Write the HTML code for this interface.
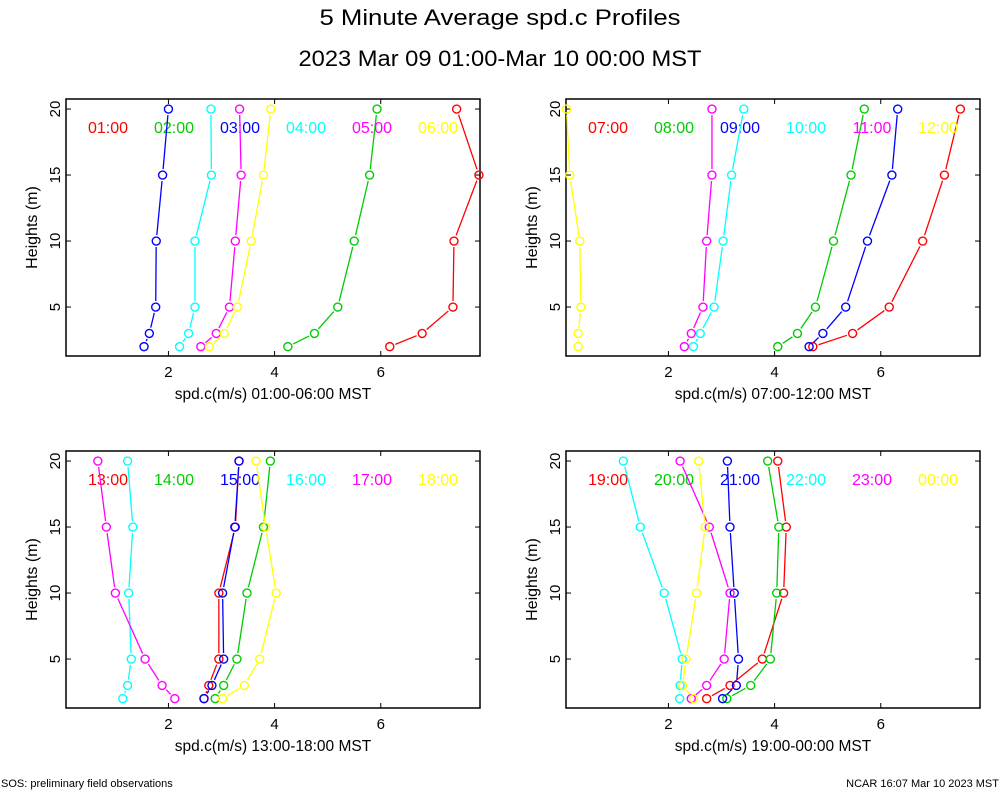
<!DOCTYPE html>
<html><head><meta charset="utf-8"><style>
body{margin:0;background:#fff;}
svg{display:block;font-family:"Liberation Sans",sans-serif;}
</style></head><body>
<svg id="chart" width="1000" height="800" viewBox="0 0 1000 800" xmlns="http://www.w3.org/2000/svg">
<text x="500" y="25" font-size="22" text-anchor="middle" textLength="361" lengthAdjust="spacingAndGlyphs">5 Minute Average spd.c Profiles</text>
<text x="500" y="66" font-size="22" text-anchor="middle" textLength="403" lengthAdjust="spacingAndGlyphs">2023 Mar 09 01:00-Mar 10 00:00 MST</text>
<text x="1" y="787" font-size="11">SOS: preliminary field observations</text>
<text x="999" y="787" font-size="11" text-anchor="end">NCAR 16:07 Mar 10 2023 MST</text>
</svg>
<script>
const heights = [2,3,5,10,15,20];
const colors = ["#ff0000","#00cc00","#0000ff","#00ffff","#ff00ff","#ffff00"];
const xTicks = [2,4,6];
const yTicks = [5,10,15,20];
const panel1Labels = ["01:00","02:00","03:00","04:00","05:00","06:00"];
const panel1Values = [
 [6.17,6.78,7.36,7.38,7.85,7.43],
 [4.25,4.75,5.19,5.50,5.79,5.93],
 [1.54,1.64,1.76,1.77,1.89,2.00],
 [2.21,2.38,2.50,2.50,2.81,2.80],
 [2.61,2.90,3.15,3.26,3.37,3.34],
 [2.77,3.05,3.30,3.56,3.79,3.93]];
const panel2Labels = ["07:00","08:00","09:00","10:00","11:00","12:00"];
const panel2Values = [
 [4.72,5.47,6.16,6.79,7.20,7.50],
 [4.06,4.43,4.77,5.11,5.44,5.69],
 [4.65,4.91,5.34,5.75,6.21,6.32],
 [2.47,2.60,2.86,3.03,3.19,3.42],
 [2.30,2.43,2.65,2.72,2.82,2.82],
 [0.30,0.30,0.35,0.33,0.14,0.08]];
const panel3Labels = ["13:00","14:00","15:00","16:00","17:00","18:00"];
const panel3Values = [
 [2.67,2.76,2.95,2.95,3.26,3.33],
 [2.88,3.04,3.29,3.48,3.79,3.92],
 [2.67,2.82,3.04,3.02,3.25,3.33],
 [1.14,1.23,1.30,1.25,1.33,1.23],
 [2.12,1.88,1.56,1.00,0.83,0.67],
 [3.02,3.43,3.72,4.03,3.83,3.65]];
const panel4Labels = ["19:00","20:00","21:00","22:00","23:00","00:00"];
const panel4Values = [
 [2.72,3.16,3.77,4.17,4.22,4.06],
 [3.10,3.55,3.92,4.04,4.08,3.87],
 [3.02,3.28,3.32,3.24,3.16,3.11],
 [2.21,2.22,2.26,1.92,1.47,1.15],
 [2.43,2.72,3.05,3.16,2.77,2.22],
 [2.47,2.27,2.33,2.53,2.69,2.57]];
const xAxisTitles = ["spd.c(m/s) 01:00-06:00 MST","spd.c(m/s) 07:00-12:00 MST","spd.c(m/s) 13:00-18:00 MST","spd.c(m/s) 19:00-00:00 MST"];

const NS="http://www.w3.org/2000/svg";
const svg=document.getElementById('chart');
function mk(tag,attrs,parent){const e=document.createElementNS(NS,tag);for(const k in attrs)e.setAttribute(k,attrs[k]);(parent||svg).appendChild(e);return e;}
const XMIN=0.07,XMAX=7.87,YMIN=1.29,YMAX=20.76;
const panels=[
 {x:66,y:99,labels:panel1Labels,vals:panel1Values,n:1},
 {x:566,y:99,labels:panel2Labels,vals:panel2Values,n:2},
 {x:66,y:451,labels:panel3Labels,vals:panel3Values,n:3},
 {x:566,y:451,labels:panel4Labels,vals:panel4Values,n:4}];
const W=414,H=257;
panels.forEach((p,pi)=>{
 const g=mk('g',{});
 
 
 const sx=v=>p.x+(v-XMIN)/(XMAX-XMIN)*W;
 const sy=v=>p.y+H-(v-YMIN)/(YMAX-YMIN)*H;
 const frame=mk('rect',{x:p.x,y:p.y,width:W,height:H,fill:'none',stroke:'#000','stroke-width':1.5},g);
 
 
 xTicks.forEach(t=>{
  const X=sx(t);
  mk('line',{x1:X,y1:p.y+H,x2:X,y2:p.y+H-5,stroke:'#000'},g);
  mk('line',{x1:X,y1:p.y,x2:X,y2:p.y+5,stroke:'#000'},g);
  const tl=mk('text',{x:X,y:p.y+H+21,'font-size':15,'text-anchor':'middle'},g);
  tl.textContent=t;
  
  
 });
 yTicks.forEach(t=>{
  const Y=sy(t);
  mk('line',{x1:p.x,y1:Y,x2:p.x+5,y2:Y,stroke:'#000'},g);
  mk('line',{x1:p.x+W,y1:Y,x2:p.x+W-5,y2:Y,stroke:'#000'},g);
  const tl=mk('text',{x:0,y:0,'font-size':15,'text-anchor':'middle',transform:`translate(${p.x-6},${Y}) rotate(-90)`},g);
  tl.textContent=t;
  
  
 });
 const yt=mk('text',{x:0,y:0,'font-size':16,'text-anchor':'middle',transform:`translate(${p.x-29},${p.y+H/2}) rotate(-90)`},g);
 yt.textContent='Heights (m)';
 
 
 const xt=mk('text',{x:p.x+W/2,y:p.y+H+43,'font-size':15.5,'text-anchor':'middle'},g);
 xt.textContent=xAxisTitles[pi];
 
 
 p.vals.forEach((series,si)=>{
  const c=colors[si];
  const sg=mk('g',{},g);
  
  
  for(let i=0;i<series.length-1;i++){
   const x1=sx(series[i]),y1=sy(heights[i]),x2=sx(series[i+1]),y2=sy(heights[i+1]);
   const dx=x2-x1,dy=y2-y1,L=Math.hypot(dx,dy),gp=6;
   if(L>2*gp){
    mk('line',{x1:x1+dx/L*gp,y1:y1+dy/L*gp,x2:x2-dx/L*gp,y2:y2-dy/L*gp,stroke:c,'stroke-width':1.3},sg);
   }
  }
  series.forEach((v,i)=>{
   const m=mk('circle',{cx:sx(v),cy:sy(heights[i]),r:4,fill:'none',stroke:c,'stroke-width':1.4},sg);
   
   
  });
  const lg=mk('text',{x:p.x+42+si*66,y:p.y+34,'font-size':16,'text-anchor':'middle',fill:c},g);
  lg.textContent=p.labels[si];
  
  
 });
});
</script>
</body></html>
